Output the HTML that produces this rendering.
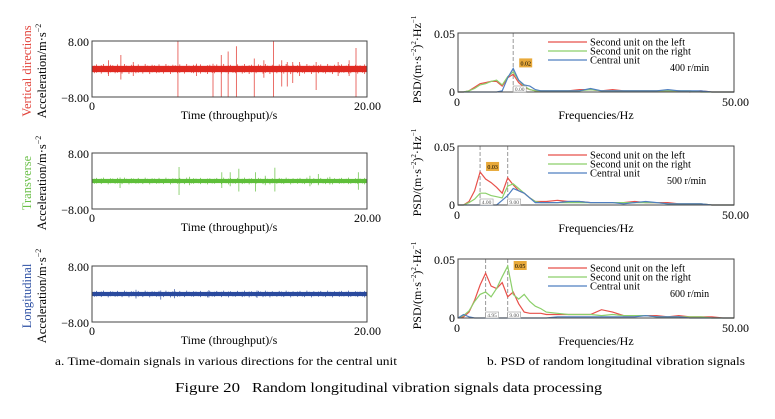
<!DOCTYPE html>
<html><head><meta charset="utf-8"><style>
html,body{margin:0;padding:0;background:#fff;}
svg, svg text{font-family:"Liberation Serif","Times New Roman",serif;}
</style></head><body>
<svg id="fig" width="775" height="414" viewBox="0 0 775 414" font-family="Liberation Serif, Times New Roman, serif">
<g id="left"></g>
<g id="right"></g>
<text x="55" y="365" font-size="12" textLength="342" lengthAdjust="spacingAndGlyphs">a. Time-domain signals in various directions for the central unit</text>
<text x="487" y="365" font-size="12" textLength="258" lengthAdjust="spacingAndGlyphs">b. PSD of random longitudinal vibration signals</text>
<text x="175" y="392" font-size="14" textLength="65" lengthAdjust="spacingAndGlyphs">Figure 20</text>
<text x="252" y="392" font-size="14" textLength="350" lengthAdjust="spacingAndGlyphs">Random longitudinal vibration signals data processing</text>
</svg>
<script>
const noise = [0.6,-0.8,1.1,-0.5,0.9,-1.2,0.4,-0.7,1.0,-0.9,0.7,-1.1,0.5,-0.6,1.2,-0.8,0.3,-1.0,0.9,-0.4,1.1,-0.7,0.6,-1.2,0.8,-0.5,1.0,-0.9,0.4,-1.1,0.7,-0.6,1.2,-0.8,0.5,-1.0,0.9,-0.3,1.1,-0.7,0.6,-1.2,0.8,-0.5,1.0,-0.9,0.4,-1.1,0.7,-0.6,0.9,-1.0,0.5,-0.8,1.1,-0.4,0.8,-1.2,0.6,-0.9,1.0,-0.5,0.7,-1.1,0.4,-0.8,1.2,-0.6,0.9,-1.0,0.5,-0.7,1.1,-0.9,0.3,-1.2,0.8,-0.6,1.0,-0.4,0.7,-1.1,0.9,-0.5,1.2,-0.8,0.4,-1.0,0.6,-0.9,1.1,-0.7,0.5,-1.2,0.8,-0.4,1.0,-0.6,0.9,-1.1,0.7,-0.5,1.2,-0.8,0.6,-1.0,0.4,-0.9,1.1,-0.6,0.8,-1.2,0.5,-0.7,1.0,-0.8,0.9,-0.5,1.1,-1.0];
const timeAmp = [1.2, 0.8, 0.8];
const vertSpikeT = [2.1,6.25,8.8,9.4,9.9,10.5,11.8,13.2,13.8,14.2,14.6,16.3,19.2,1.2,3.0,7.6,12.5,15.1,17.9,18.7];
const vertSpikeUp = [4,8,1.5,4,5,6.5,3,8,2.5,2,2,2,6,2.5,2,1.5,2.5,2,2,2.5];
const vertSpikeDn = [-3,-8,-8,-8,-8,-8,-8,-8,-5,-5,-4,-6,-8,-2,-2,-2,-2.5,-2,-2,-2];
const trSpikeT = [2.04,6.33,9.44,10.05,10.68,11.89,13.3,15.85,16.46,19.37,7.1,12.6,17.3];
const trSpikeUp = [1,4,2.5,2.5,3.5,2.5,3.8,1.5,2,2.5,1.2,1.5,1.2];
const trSpikeDn = [-2,-4,-2,-1.5,-3,-3,-3,-1.5,-1.2,-2.5,-1.2,-1.2,-1];
const lgSpikeT = [3.2,5.0,6.0,8.5,12.0];
const lgSpikeUp = [1.2,1.0,1.4,1.1,1.0];
const lgSpikeDn = [-1.3,-1.6,-1.2,-1.0,-1.1];
const timeTicks = ["0","20.00"];
const accTicks = ["8.00","\u22128.00"];
const freqs = [0,1,2,3,4,5,6,7,8,9,10,11,12,13,14,15,16,18,20,22,24,26,28,30,32,34,36,38,40,42,44,46,48,50];
const psd400Left  = [0,0,0.001,0.004,0.007,0.008,0.009,0.009,0.005,0.012,0.015,0.008,0.004,0.002,0.001,0.001,0.001,0.001,0.001,0.002,0.002,0.001,0.002,0.001,0.001,0.001,0.001,0.001,0.001,0,0.001,0,0,0];
const psd400Right = [0,0,0.001,0.003,0.006,0.007,0.009,0.01,0.006,0.013,0.017,0.01,0.005,0.002,0.001,0.001,0.001,0.001,0.001,0.001,0.002,0.001,0.001,0.001,0.001,0.001,0.001,0.001,0.001,0.001,0,0,0,0];
const psd400Cent  = [0,0,0,0,0,0,0,0,0.001,0.012,0.02,0.01,0.006,0.005,0.002,0.001,0.001,0.001,0.001,0.001,0.003,0.001,0.001,0.001,0.001,0.001,0.001,0.002,0.001,0.001,0.001,0,0,0];
const psd500Left  = [0,0,0.003,0.012,0.028,0.022,0.019,0.015,0.01,0.023,0.017,0.012,0.01,0.006,0.003,0.003,0.003,0.004,0.003,0.003,0.002,0.002,0.002,0.002,0.003,0.002,0.002,0.002,0.001,0.001,0.001,0,0,0];
const psd500Right = [0,0,0.002,0.005,0.01,0.01,0.008,0.007,0.006,0.016,0.018,0.014,0.01,0.006,0.003,0.002,0.002,0.002,0.002,0.002,0.002,0.002,0.002,0.002,0.002,0.002,0.002,0.001,0.001,0.001,0.001,0,0,0];
const psd500Cent  = [0,0,0,0,0,0,0,0,0.004,0.008,0.014,0.012,0.01,0.006,0.002,0.002,0.002,0.002,0.003,0.003,0.002,0.002,0.002,0.001,0.002,0.003,0.002,0.001,0.001,0.001,0.001,0,0,0];
const psd600Left  = [0,0.001,0.005,0.015,0.028,0.038,0.027,0.025,0.03,0.018,0.022,0.012,0.005,0.004,0.004,0.004,0.003,0.003,0.003,0.003,0.003,0.007,0.005,0.002,0.002,0.002,0.002,0.001,0.002,0.001,0.001,0.001,0,0];
const psd600Right = [0,0.002,0.006,0.014,0.02,0.022,0.018,0.025,0.035,0.044,0.02,0.016,0.02,0.014,0.01,0.008,0.005,0.004,0.003,0.003,0.003,0.002,0.003,0.002,0.002,0.002,0.001,0.001,0.001,0.001,0.001,0,0,0];
const psd600Cent  = [0,0.003,0.001,0,0,0,0,0,0,0,0,0,0,0,0,0,0,0.001,0.001,0.001,0.001,0.001,0.001,0.001,0.001,0.002,0.001,0.001,0.001,0,0,0,0,0];
const psdTicks = ["0.05","0"];
const freqTicks = ["0","50.00"];
const legendLabels = ["Second unit on the left","Second unit on the right","Central unit"];
const rpmLabels = ["400 r/min","500 r/min","600 r/min"];
const peakLabels = [["0.02"],["0.03"],["0.05"]];
const peakFreqA = [10,4,5];
const peakFreqB = [null,9,9];
const peakVal = [0.02,0.028,0.044];
const zeroLabelsA = [null,"4.00","4.95"];
const zeroLabelsB = ["0.00","9.00","9.00"];

const NS="http://www.w3.org/2000/svg";
const FF="Liberation Serif, Times New Roman, serif";
function mk(tag,attrs,parent,text){const e=document.createElementNS(NS,tag);for(const k in attrs)e.setAttribute(k,attrs[k]);if(tag==='text')e.setAttribute('font-family',FF);if(text!==undefined)e.textContent=text;parent.appendChild(e);return e;}

const left=document.getElementById('left');
const right=document.getElementById('right');
const LX0=92,LX1=367;
const ltops=[41,153,266], lh=56;
const dirNames=["Vertical directions","Transverse","Longitudinal"];
const dirColors=["#e2443c","#6cc04a","#2c4fa3"];
const sigColors=["#e02a22","#5fbf3a","#2a4a9e"];
const spikes=[[vertSpikeT,vertSpikeUp,vertSpikeDn],[trSpikeT,trSpikeUp,trSpikeDn],[lgSpikeT,lgSpikeUp,lgSpikeDn]];

for(let p=0;p<3;p++){
  const top=ltops[p];
  const g=mk('g',{},left);
  
  
  const xs=t=>LX0+t/20*(LX1-LX0);
  const ys=v=>top+lh/2-v/8*(lh/2);
  const band=mk('rect',{x:LX0,y:ys(timeAmp[p]*0.75),width:LX1-LX0,height:ys(-timeAmp[p]*0.75)-ys(timeAmp[p]*0.75),fill:sigColors[p]},g);
  
  
  for(let i=0;i<noise.length;i++){
    const x=xs(i/(noise.length-1)*20);
    const l=mk('line',{x1:x,x2:x,y1:ys(Math.abs(noise[i])*timeAmp[p]),y2:ys(-Math.abs(noise[(i+7)%noise.length])*timeAmp[p]),stroke:sigColors[p],'stroke-width':0.7},g);
    
    
  }
  const [st,su,sd]=spikes[p];
  for(let i=0;i<st.length;i++){
    const l=mk('line',{x1:xs(st[i]),x2:xs(st[i]),y1:ys(su[i]),y2:ys(sd[i]),stroke:sigColors[p],'stroke-width':0.8,opacity:0.85},g);
    
    
  }
  const box=mk('rect',{x:LX0,y:top,width:LX1-LX0,height:lh,fill:'none',stroke:'#444','stroke-width':1},g);
  
  
  const t1=mk('text',{x:LX0-3,y:top+5,'font-size':12,'text-anchor':'end'},g,accTicks[0]);
  
  
  const t2=mk('text',{x:LX0-3,y:top+lh+5,'font-size':12,'text-anchor':'end'},g,accTicks[1]);
  
  
  const x1=mk('text',{x:LX0-3,y:top+lh+13,'font-size':12},g,timeTicks[0]);
  
  
  const x2=mk('text',{x:LX1+14,y:top+lh+13,'font-size':12,'text-anchor':'end'},g,timeTicks[1]);
  
  
  const xt=mk('text',{x:229,y:top+lh+22,'font-size':12,'text-anchor':'middle'},g,"Time (throughput)/s");
  
  
  const cy=top+lh/2+2;
  const dn=mk('text',{x:0,y:0,'font-size':12.5,'text-anchor':'middle',fill:dirColors[p],transform:`translate(31,${cy}) rotate(-90)`},g,dirNames[p]);
  
  
  const yt=mk('text',{x:0,y:0,'font-size':12.5,'text-anchor':'middle',transform:`translate(46,${cy}) rotate(-90)`},g);
  
  
  yt.innerHTML='Acceleration/m·s<tspan font-size="8" dy="-5">−2</tspan>';
}

const RX0=458,RX1=734;
const rtops=[33,146,259], rh=59;
const psdSeries=[[psd400Left,psd400Right,psd400Cent],[psd500Left,psd500Right,psd500Cent],[psd600Left,psd600Right,psd600Cent]];
const lineColors=["#e8504a","#8ccf6a","#4f7fc0"];
for(let p=0;p<3;p++){
  const top=rtops[p];
  const g=mk('g',{},right);
  
  
  const xs=f=>RX0+f/50*(RX1-RX0);
  const ys=v=>top+rh-v/0.05*rh;
  [peakFreqA[p],peakFreqB[p]].forEach(f=>{ if(f===null)return;
    const d=mk('line',{x1:xs(f),x2:xs(f),y1:top,y2:top+rh,stroke:'#999','stroke-width':1,'stroke-dasharray':'4,2'},g);
    
    
  });
  psdSeries[p].forEach((s,k)=>{
    const pts=s.map((v,i)=>xs(freqs[i]).toFixed(1)+','+ys(v).toFixed(1)).join(' ');
    const pl=mk('polyline',{points:pts,fill:'none',stroke:lineColors[k],'stroke-width':1.2},g);
    
    
  });
  const box=mk('rect',{x:RX0,y:top,width:RX1-RX0,height:rh,fill:'none',stroke:'#444','stroke-width':1},g);
  
  
  const pf=p==2?peakFreqB[p]:peakFreqA[p];
  const lx=xs(pf)+6, ly=Math.max(top+2,ys(peakVal[p])-10);
  const pr=mk('rect',{x:lx,y:ly,width:13,height:9,fill:'#e8a93a'},g);
  
  
  const pt=mk('text',{x:lx+6.5,y:ly+7,'font-size':6,'text-anchor':'middle'},g,peakLabels[p][0]);
  
  
  [[peakFreqA[p],zeroLabelsA[p]],[p==0?peakFreqA[p]:peakFreqB[p],zeroLabelsB[p]]].forEach(([f,lab])=>{ if(!lab)return;
    const r=mk('rect',{x:xs(f),y:top+rh-6,width:13,height:6,fill:'#fff',stroke:'#999','stroke-width':0.6},g);
    
    
    const t=mk('text',{x:xs(f)+6.5,y:top+rh-1,'font-size':5.5,'text-anchor':'middle',fill:'#555'},g,lab);
    
    
  });
  legendLabels.forEach((lab,k)=>{
    const yy=top+9+k*9;
    const l=mk('line',{x1:548,x2:587,y1:yy,y2:yy,stroke:lineColors[k],'stroke-width':1.3},g);
    
    
    const t=mk('text',{x:590,y:yy+3.5,'font-size':10.5},g,lab);
    
    
  });
  const rp=mk('text',{x:p==1?667:670,y:top+38,'font-size':10},g,rpmLabels[p]);
  
  
  const t1=mk('text',{x:RX0-3,y:top+5,'font-size':12,'text-anchor':'end'},g,psdTicks[0]);
  
  
  const t2=mk('text',{x:RX0-3,y:top+rh+4,'font-size':12,'text-anchor':'end'},g,psdTicks[1]);
  
  
  const x1=mk('text',{x:RX0-4,y:top+rh+14,'font-size':12},g,freqTicks[0]);
  
  
  const x2=mk('text',{x:RX1+15,y:top+rh+14,'font-size':12,'text-anchor':'end'},g,freqTicks[1]);
  
  
  const xt=mk('text',{x:596,y:top+rh+27,'font-size':12,'text-anchor':'middle'},g,"Frequencies/Hz");
  
  
  const yt=mk('text',{x:0,y:0,'font-size':12,'text-anchor':'middle',transform:`translate(421,${top+rh/2-3}) rotate(-90)`},g);
  
  
  yt.innerHTML='PSD/(m·s<tspan font-size="7" dy="-5">−2</tspan><tspan dy="5">)</tspan><tspan font-size="7" dy="-5">2</tspan><tspan dy="5">·Hz</tspan><tspan font-size="7" dy="-5">−1</tspan>';
}
</script>
</body></html>
